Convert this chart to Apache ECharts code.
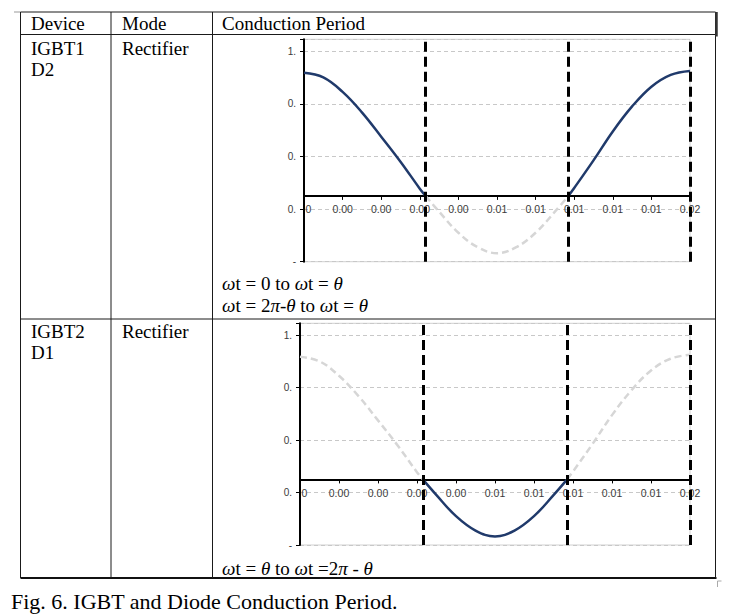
<!DOCTYPE html>
<html>
<head>
<meta charset="utf-8">
<script src="https://cdn.jsdelivr.net/npm/echarts@6/dist/echarts.min.js"></script>
<style>
  html, body { margin: 0; padding: 0; background: #fff; }
  #main { width: 742px; height: 616px; }
</style>
</head>
<body>
<div id="main"></div>
<script>
// one period of the waveform (t in s)
const tValues = [0, 0.001, 0.002, 0.003, 0.004, 0.005, 0.006, 0.0063, 0.007, 0.008, 0.009, 0.010,
                 0.011, 0.012, 0.013, 0.0137, 0.014, 0.015, 0.016, 0.017, 0.018, 0.019, 0.020];
const current = [0.935, 0.9, 0.79, 0.635, 0.45, 0.26, 0.055, 0, -0.12, -0.28, -0.39, -0.435,
                 -0.39, -0.28, -0.12, 0, 0.06, 0.27, 0.49, 0.68, 0.83, 0.92, 0.95];
const thetaStart = 0.0063;
const thetaEnd = 0.0137;
const period = 0.02;

const xTickLabels = ['0', '0.00', '0.00', '0.00', '0.00', '0.01', '0.01', '0.01', '0.01', '0.01', '0.02'];
const yTickLabels = ['-', '0.', '0.', '0.', '1.'];
const yMin = -0.5, yMax = 1.19, yStep = 0.4;

const headers = ['Device', 'Mode', 'Conduction Period'];
const rows = [
    { device: ['IGBT1', 'D2'], mode: 'Rectifier',
      period: ['{i|ω}t = 0 to {i|ω}t = {i|θ}', '{i|ω}t = 2{i|π}-{i|θ} to {i|ω}t = {i|θ}'] },
    { device: ['IGBT2', 'D1'], mode: 'Rectifier',
      period: ['{i|ω}t = {i|θ} to {i|ω}t =2{i|π} - {i|θ}'] }
];
const caption = 'Fig. 6. IGBT and Diode Conduction Period.';

const myChart = echarts.init(document.getElementById('main'), null, { renderer: 'svg' });

// split the wave in the conduction part and the rest
const inside = t => t >= thetaStart && t <= thetaEnd;
const outside = t => t <= thetaStart || t >= thetaEnd;
const pick = test => tValues.map((t, i) => [t, test(t) ? current[i] : null]);

const navy = '#203a6b';
const serif = '"Liberation Serif", "Times New Roman", serif';
const sans = '"Liberation Sans", Arial, sans-serif';

const grids = [
    { left: 304, right: 52, top: 39.3, bottom: 354.3 },
    { left: 300, right: 52, top: 323.3, bottom: 71 }
];

function makeX(gi) {
    // the time axis sits on y = 0, pulled up from the grid bottom
    const h = 616 - grids[gi].top - grids[gi].bottom;
    const up = (0 - yMin) / (yMax - yMin) * h;
    return {
        type: 'value', gridIndex: gi, min: 0, max: period, interval: 0.002,
        position: 'bottom', offset: -up,
        axisLine: { onZero: false, lineStyle: { color: '#000', width: 2 } },
        axisTick: { show: true, length: 4, lineStyle: { color: '#000', width: 1 } },
        splitLine: { show: false },
        axisLabel: {
            fontSize: 10.5, color: '#3a3a3a', margin: 8, fontFamily: sans,
            showMinLabel: true, showMaxLabel: true,
            rich: { first: { padding: [0, 0, 0, 9], fontSize: 10.5, color: '#3a3a3a', fontFamily: sans } },
            formatter: v => {
                const k = Math.round(v / 0.002);
                return k === 0 ? '{first|' + xTickLabels[0] + '}' : (xTickLabels[k] ?? '');
            }
        }
    };
}
function makeY(gi) {
    return {
        type: 'value', gridIndex: gi, min: yMin, max: yMax, interval: yStep,
        axisLine: { show: true, onZero: false, lineStyle: { color: '#000', width: 2 } },
        axisTick: { show: true, length: 4, lineStyle: { color: '#000', width: 1 } },
        splitLine: { show: true, lineStyle: { color: '#c8c8c8', type: [4, 3], width: 1 } },
        axisLabel: {
            fontSize: 10, color: '#3a3a3a', margin: 8, fontFamily: sans,
            formatter: v => {
                const k = Math.round((v - yMin) / yStep);
                return Math.abs(yMin + k * yStep - v) < 1e-6 ? (yTickLabels[k] ?? '') : '';
            }
        }
    };
}
function makeSeries(gi, darkTest, greyTest) {
    return [
        {
            type: 'line', xAxisIndex: gi, yAxisIndex: gi, data: pick(greyTest),
            smooth: 0.4, showSymbol: false, z: 2,
            lineStyle: { color: '#d6d6d6', width: 2.5, type: [7, 4] }
        },
        {
            type: 'line', xAxisIndex: gi, yAxisIndex: gi, data: pick(darkTest),
            smooth: 0.4, showSymbol: false, z: 3,
            lineStyle: { color: navy, width: 2.5 },
            markLine: {
                silent: true, symbol: 'none', precision: 5, label: { show: false },
                lineStyle: { color: '#000', width: 3, type: [10, 5] },
                data: [{ xAxis: thetaStart }, { xAxis: thetaEnd }, { xAxis: period }]
            }
        }
    ];
}

// table frame and text
const L = 20.5, R = 715.5, T = 12, HB = 34.5, RD = 319, B = 578;
const colX = [L, 111, 212.5, R];
const g = [];
const line = (x1, y1, x2, y2, w, c) => g.push({
    type: 'line', silent: true, shape: { x1, y1, x2, y2 },
    style: { stroke: c || '#1a1a1a', lineWidth: w || 1 }
});
line(L, T, R, T);
line(14, T, L, T, 1, '#999');
line(L, HB, R, HB);
line(L, RD, R, RD);
line(L, B, R + 1, B, 2, '#111');
colX.forEach(x => line(x, T, x, B));
line(R + 1, T, R + 1, HB + 2, 2.5, '#333');
line(R + 2, B + 3, R + 6, B + 3, 1, '#aaa');
line(R + 2, B + 3, R + 2, B + 9, 1, '#aaa');

const text = (x, y, s, size) => g.push({
    type: 'text', silent: true, x, y,
    style: {
        text: s, fontFamily: serif, fontSize: size, fill: '#000',
        verticalAlign: 'middle', align: 'left',
        rich: { i: { fontStyle: 'italic', fontFamily: serif, fontSize: size } }
    }
});
const textX = [31, 122, 222];
headers.forEach((h, i) => text(textX[i], 23.5, h, 19));
rows[0].device.forEach((s, k) => text(textX[0], 48.5 + k * 21, s, 19));
text(textX[1], 48.5, rows[0].mode, 19);
rows[0].period.forEach((s, k) => text(textX[2], 283 + k * 22, s, 19));
rows[1].device.forEach((s, k) => text(textX[0], 331 + k * 21, s, 19));
text(textX[1], 331, rows[1].mode, 19);
rows[1].period.forEach((s, k) => text(textX[2], 568, s, 19));
text(11, 601, caption, 22);

const option = {
    animation: false,
    backgroundColor: '#fff',
    grid: grids.map(gr => Object.assign({ show: true, borderColor: '#d0d0d0', borderWidth: 1 }, gr)),
    xAxis: [makeX(0), makeX(1)],
    yAxis: [makeY(0), makeY(1)],
    series: [...makeSeries(0, outside, inside), ...makeSeries(1, inside, outside)],
    graphic: g
};

option && myChart.setOption(option);
</script>
</body>
</html>
